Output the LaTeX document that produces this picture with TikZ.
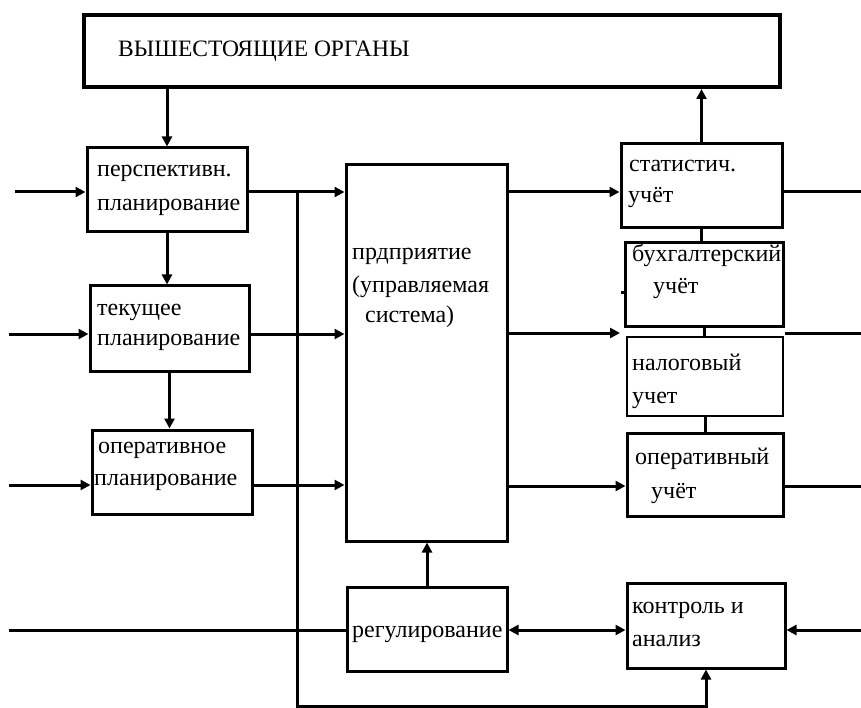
\documentclass[tikz,border=0pt]{standalone}
\usepackage{fontspec}
\setmainfont{Liberation Serif}
\usetikzlibrary{arrows.meta}

\begin{document}
\begin{tikzpicture}[x=1pt, y=-1pt,
  blk/.style={draw, line width=3pt, inner sep=0pt},
  topblk/.style={draw, line width=4pt, inner sep=0pt},
  thinblk/.style={draw, line width=1.5pt, inner sep=0pt},
  lbl/.style={anchor=base west, inner sep=0pt, font=\fontsize{24}{28}\selectfont},
  flow/.style={line width=3pt},
  arr/.style={flow, -{Triangle[length=10pt,width=10pt]}},
  biarr/.style={flow, {Triangle[length=10pt,width=10pt]}-{Triangle[length=10pt,width=10pt]}}]

\useasboundingbox[fill=white] (0,0) rectangle (861,708);

% ---- blocks ----
\node[topblk, minimum width=696pt, minimum height=72pt] (top) at (432,51) {};
\node[blk, minimum width=160pt, minimum height=84pt] (persp) at (167,190) {};
\node[blk, minimum width=159pt, minimum height=85pt] (cur) at (169.5,328.5) {};
\node[blk, minimum width=160pt, minimum height=84pt] (oper) at (172,472) {};
\node[blk, minimum width=161pt, minimum height=376pt] (ent) at (426.5,353) {};
\node[blk, minimum width=161pt, minimum height=84pt] (stat) at (701.5,186) {};
\node[blk, minimum width=158pt, minimum height=83pt] (buh) at (704,284.5) {};
\node[thinblk, minimum width=156pt, minimum height=79pt] (nal) at (705,376.5) {};
\node[blk, minimum width=156pt, minimum height=83pt] (opu) at (705,474.5) {};
\node[blk, minimum width=160pt, minimum height=84pt] (reg) at (427,629) {};
\node[blk, minimum width=158pt, minimum height=85pt] (ctl) at (706,625.5) {};

% ---- texts ----
\node[lbl, font=\fontsize{23.5}{28}\selectfont] (t-top) at (118,57) {ВЫШЕСТОЯЩИЕ ОРГАНЫ};
\node[lbl] (t-persp1) at (97,177) {перспективн.};
\node[lbl] (t-persp2) at (97,211) {планирование};
\node[lbl] (t-cur1) at (97,315) {текущее};
\node[lbl] (t-cur2) at (97,345) {планирование};
\node[lbl] (t-oper1) at (98,453) {оперативное};
\node[lbl] (t-oper2) at (94,485) {планирование};
\node[lbl] (t-ent1) at (352,260) {прдприятие};
\node[lbl] (t-ent2) at (352,293) {(управляемая};
\node[lbl] (t-ent3) at (365,323) {система)};
\node[lbl] (t-stat1) at (629,172) {статистич.};
\node[lbl] (t-stat2) at (628,203) {учёт};
\node[lbl] (t-buh1) at (632,262) {бухгалтерский};
\node[lbl] (t-buh2) at (653,294) {учёт};
\node[lbl] (t-nal1) at (632,370) {налоговый};
\node[lbl] (t-nal2) at (632,403) {учет};
\node[lbl] (t-opu1) at (635,464) {оперативный};
\node[lbl] (t-opu2) at (651,498) {учёт};
\node[lbl] (t-reg) at (352,637) {регулирование};
\node[lbl] (t-ctl1) at (632,613) {контроль и};
\node[lbl] (t-ctl2) at (632,646) {анализ};

% ---- free ends and junctions ----
\coordinate (in1) at (15,192);
\coordinate (in2) at (9,334);
\coordinate (in3) at (9,485);
\coordinate (in4) at (9,630);
\coordinate (out1) at (861,192);
\coordinate (out2) at (861,333);
\coordinate (out3) at (861,486);
\coordinate (in5) at (861,630);
\coordinate (acc) at (620,333);
\coordinate (j1) at (297,192);
\coordinate (bend) at (297,706);
\coordinate (stub) at (621,293);

% ---- vertical chain of planning ----
\draw[arr] (persp.north |- top.south) -- (persp.north);
\draw[arr] (persp.south) -- (persp.south |- cur.north);
\draw[arr] (cur.south) -- (cur.south |- oper.north);

% ---- external inputs ----
\draw[arr] (in1) -- (in1 -| persp.west);
\draw[arr] (in2) -- (in2 -| cur.west);
\draw[arr] (in3) -- (in3 -| oper.west);
\draw[flow] (in4) -- (in4 -| reg.west);

% ---- planning to enterprise ----
\draw[arr] (in1 -| persp.east) -- (in1 -| ent.west);
\draw[arr] (in2 -| cur.east) -- (in2 -| ent.west);
\draw[arr] (in3 -| oper.east) -- (in3 -| ent.west);

% ---- feedback bus to control ----
\draw[arr] (j1) -- (bend) -| (ctl.south);

% ---- enterprise to accounting ----
\draw[arr] (in1 -| ent.east) -- (in1 -| stat.west);
\draw[arr] (acc -| ent.east) -- (acc);
\draw[arr] (out3 -| ent.east) -- (out3 -| opu.west);

% ---- accounting outputs ----
\draw[flow] (out1 -| stat.east) -- (out1);
\draw[flow] (out2 -| buh.east) -- (out2);
\draw[flow] (out3 -| opu.east) -- (out3);
\draw[arr] (stat.north) -- (stat.north |- top.south);
\draw[flow] (stat.south) -- (stat.south |- buh.north);
\draw[flow] (buh.south) -- (buh.south |- nal.north);
\draw[flow] (nal.south) -- (nal.south |- opu.north);
\draw[flow] (stub) -- (stub -| buh.west);

% ---- regulation and control ----
\draw[arr] (reg.north) -- (reg.north |- ent.south);
\draw[biarr] (in4 -| reg.east) -- (in4 -| ctl.west);
\draw[arr] (in5) -- (in5 -| ctl.east);

\end{tikzpicture}
\end{document}
